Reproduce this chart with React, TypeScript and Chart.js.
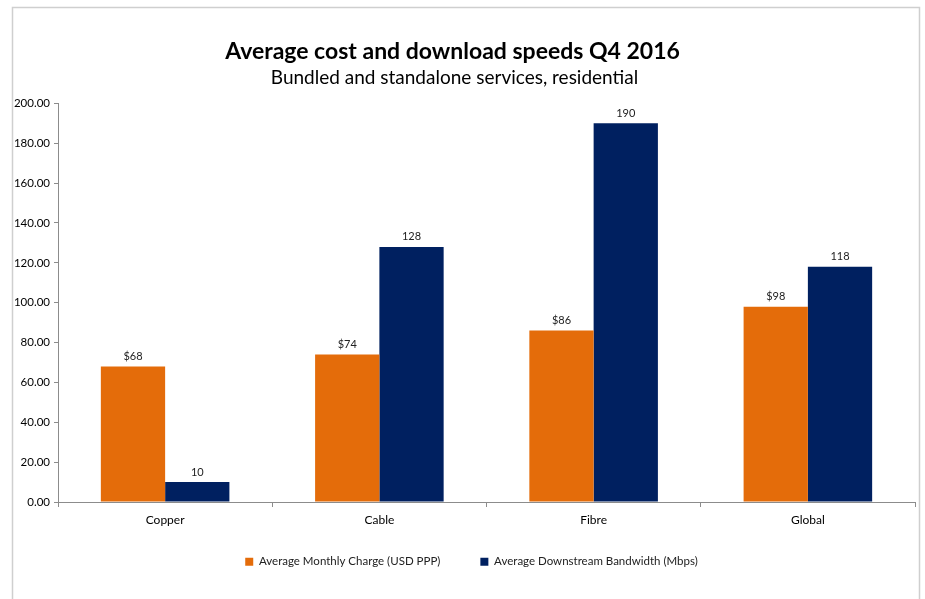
import React, { useEffect, useRef } from "react";
import { Chart, registerables } from "chart.js";

Chart.register(...registerables);

const TITLE = "Average cost and download speeds Q4 2016";
const SUBTITLE = "Bundled and standalone services, residential";
const categories = ["Copper", "Cable", "Fibre", "Global"];
const seriesNames = ["Average Monthly Charge (USD PPP)", "Average Downstream Bandwidth (Mbps)"];
const monthlyCharge = [68, 74, 86, 98];
const bandwidth = [10, 128, 190, 118];
const chargeLabels = ["$68", "$74", "$86", "$98"];
const bandwidthLabels = ["10", "128", "190", "118"];
const yTicks = [0, 20, 40, 60, 80, 100, 120, 140, 160, 180, 200];

const FONT = "Lato, 'Open Sans', sans-serif";
const ORANGE = "#E46C0A";
const NAVY = "#002060";

const framePlugin = {
  id: "frame",
  beforeDraw(chart: any) {
    const ctx = chart.ctx;
    ctx.save();
    ctx.fillStyle = "#ffffff";
    ctx.fillRect(0, 0, chart.width, chart.height);
    ctx.strokeStyle = "#cfcfcf";
    ctx.lineWidth = 1.5;
    ctx.beginPath();
    ctx.moveTo(12.5, chart.height + 2);
    ctx.lineTo(12.5, 7.5);
    ctx.lineTo(919.5, 7.5);
    ctx.lineTo(919.5, chart.height + 2);
    ctx.stroke();
    ctx.restore();
  },
};

const shiftPlugin = {
  id: "shiftBoxes",
  afterLayout(chart: any) {
    const lg = chart.legend;
    if (lg) {
      const h = lg.bottom - lg.top;
      lg.top = 516;
      lg.bottom = 516 + h;
      lg.left += 14;
      lg.right += 14;
    }
    const tb = chart.titleBlock;
    if (tb) {
      tb.left -= 5;
      tb.right -= 5;
    }
    const sb = chart.boxes.find((b: any) => b !== tb && b.options && b.options.text === SUBTITLE);
    if (sb) {
      sb.left -= 3;
      sb.right -= 3;
    }
  },
};

const labelPlugin = {
  id: "valueLabels",
  afterDatasetsDraw(chart: any) {
    const ctx = chart.ctx;
    const allLabels = [chargeLabels, bandwidthLabels];
    ctx.save();
    ctx.font = `11px ${FONT}`;
    ctx.fillStyle = "#222222";
    ctx.textAlign = "center";
    ctx.textBaseline = "middle";
    chart.data.datasets.forEach((_: any, di: number) => {
      const meta = chart.getDatasetMeta(di);
      meta.data.forEach((el: any, i: number) => {
        ctx.fillText(allLabels[di][i], el.x, el.y - 10);
      });
    });
    ctx.restore();
  },
};

export default function App() {
  const ref = useRef<HTMLCanvasElement>(null);
  useEffect(() => {
    if (!ref.current) return;
    const chart = new Chart(ref.current, {
      type: "bar",
      data: {
        labels: categories,
        datasets: [
          {
            label: seriesNames[0],
            data: monthlyCharge,
            backgroundColor: ORANGE,
            categoryPercentage: 0.6,
            barPercentage: 1.0,
          },
          {
            label: seriesNames[1],
            data: bandwidth,
            backgroundColor: NAVY,
            categoryPercentage: 0.6,
            barPercentage: 1.0,
          },
        ],
      },
      options: {
        responsive: false,
        animation: false,
        devicePixelRatio: 1,
        layout: { padding: { left: 0, right: 10, top: 0, bottom: 0 } },
        plugins: {
          title: {
            display: true,
            text: TITLE,
            color: "#000000",
            font: { family: FONT, size: 23, weight: "bold", lineHeight: 1.2 },
            padding: { top: 38, bottom: 0 },
          },
          subtitle: {
            display: true,
            text: SUBTITLE,
            color: "#000000",
            font: { family: FONT, size: 19, lineHeight: 1.2 },
            padding: { top: 1, bottom: 14 },
          },
          legend: {
            display: true,
            position: "bottom",
            maxHeight: 55,
            labels: {
              boxWidth: 8,
              boxHeight: 8,
              padding: 40,
              color: "#222222",
              font: { family: FONT, size: 11.5 },
            },
          },
          tooltip: { enabled: false },
        },
        scales: {
          x: {
            grid: {
              display: true,
              drawOnChartArea: false,
              drawTicks: true,
              tickLength: 5,
              color: "#8c8c8c",
            },
            border: { display: true, color: "#8c8c8c", width: 1 },
            ticks: {
              color: "#000000",
              padding: 6,
              font: { family: FONT, size: 12 },
            },
            afterFit(scale: any) {
              scale.height = 42;
            },
          },
          y: {
            min: 0,
            max: 200,
            grid: {
              display: true,
              drawOnChartArea: false,
              drawTicks: true,
              tickLength: 4,
              color: "#8c8c8c",
            },
            border: { display: true, color: "#8c8c8c", width: 1 },
            afterBuildTicks(scale: any) {
              scale.ticks = yTicks.map((v) => ({ value: v }));
            },
            ticks: {
              color: "#000000",
              padding: 4,
              font: { family: FONT, size: 11.5 },
              callback: (v: any) => Number(v).toFixed(2),
            },
            afterFit(scale: any) {
              scale.width = 58;
            },
          },
        },
      },
      plugins: [framePlugin, shiftPlugin, labelPlugin],
    });
    return () => chart.destroy();
  }, []);
  return (
    <div style={{ position: "absolute", left: 0, top: 0, width: 925, height: 599 }}>
      <canvas ref={ref} width={925} height={599} />
    </div>
  );
}
